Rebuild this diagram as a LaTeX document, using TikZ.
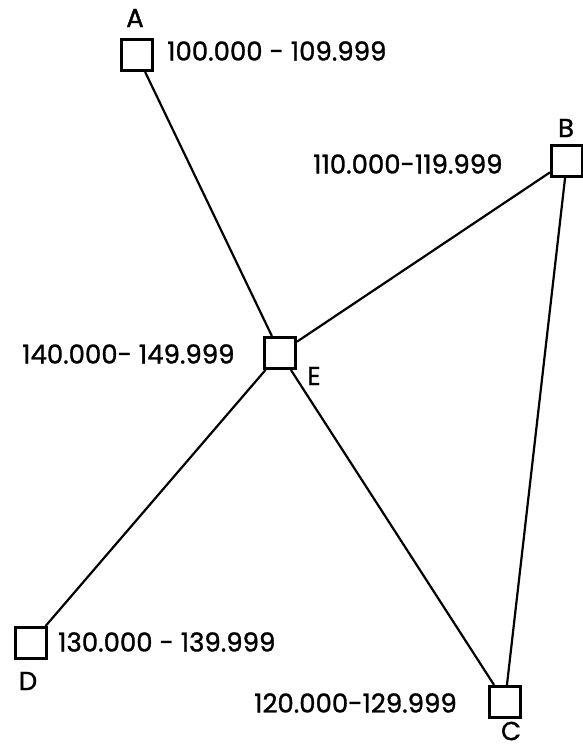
\documentclass[tikz,border=0pt]{standalone}
\usepackage{fontspec}
\setmainfont{Poppins}[FakeBold=1.2,AutoFakeBold=1.2]
\begin{document}
\begin{tikzpicture}[x=1pt,y=-1pt,
  site/.style={draw, line width=3pt, minimum size=31pt, inner sep=0pt, fill=white},
  link/.style={line width=2.2pt},
  lbl/.style={font=\bfseries\fontsize{26}{28}\selectfont, inner sep=0pt},
  rng/.style={font=\bfseries\fontsize{26}{28}\selectfont, inner sep=0pt, anchor=west}]
\useasboundingbox (0,0) rectangle (583,747);
\node[site] (A) at (137,55) {};
\node[site] (B) at (567,161) {};
\node[site] (E) at (280,353) {};
\node[site] (D) at (31,643) {};
\node[site] (C) at (505,702) {};
\draw[link] (A) -- (E);
\draw[link] (E) -- (C);
\draw[link] (E) -- (B);
\draw[link] (D) -- (E);
\draw[link] (B) -- (C);
\node[lbl] (la) at (135,18) {A};
\node[lbl] (lb) at (566,128) {B};
\node[lbl] (le) at (314,376) {E};
\node[lbl] (ld) at (28,681) {D};
\node[lbl] (lc) at (511,731) {C};
\node[rng] (ta) at (167,51) {100.000 - 109.999};
\node[rng] (tb) at (313,164) {110.000-119.999};
\node[rng] (te) at (22,354) {140.000- 149.999};
\node[rng] (td) at (58,642) {130.000 - 139.999};
\node[rng] (tc) at (254,703) {120.000-129.999};
\end{tikzpicture}
\end{document}
